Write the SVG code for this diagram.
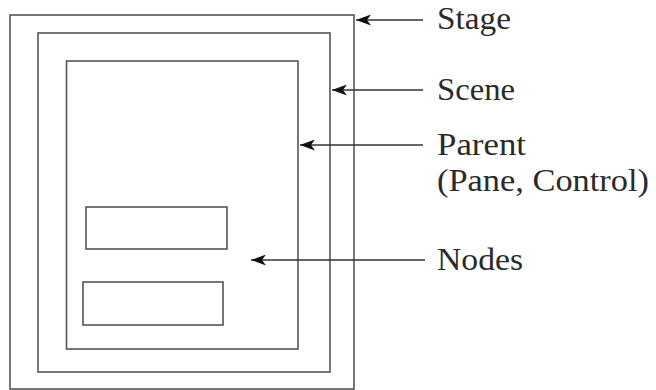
<svg xmlns="http://www.w3.org/2000/svg" width="656" height="390" viewBox="0 0 656 390">
<style>
.box{fill:none;stroke:#555;stroke-width:1.6}
.con{fill:none;stroke:#333;stroke-width:1.3}
.lbl{font-family:"Liberation Serif","Times New Roman",serif;font-size:32px;fill:#2a2a2a}
</style>
<defs>
<marker id="ah" viewBox="0 0 15 11" refX="15" refY="5.5" markerWidth="15" markerHeight="11" markerUnits="userSpaceOnUse" orient="auto-start-reverse">
<path d="M15,5.5 L0,0 L4,5.5 L0,11 Z" fill="#111"/>
</marker>
</defs>
<rect width="656" height="390" fill="#fff"/>
<g id="stage"><rect class="box" x="10" y="15" width="344" height="374"/></g>
<g id="scene"><rect class="box" x="38" y="33" width="292" height="339"/></g>
<g id="parent"><rect class="box" x="66.5" y="61" width="231.5" height="288"/></g>
<g id="node1"><rect class="box" x="86" y="207" width="141" height="42"/></g>
<g id="node2"><rect class="box" x="83" y="282" width="140" height="43"/></g>
<g id="connectors">
<line class="con" x1="356" y1="20" x2="423" y2="20" marker-start="url(#ah)"/>
<line class="con" x1="332" y1="90" x2="423" y2="90" marker-start="url(#ah)"/>
<line class="con" x1="300" y1="145" x2="423" y2="145" marker-start="url(#ah)"/>
<line class="con" x1="251" y1="260" x2="425" y2="260" marker-start="url(#ah)"/>
</g>
<g id="labels">
<text class="lbl" x="437" y="29" textLength="74" lengthAdjust="spacingAndGlyphs">Stage</text>
<text class="lbl" x="437" y="100" textLength="78" lengthAdjust="spacingAndGlyphs">Scene</text>
<text class="lbl" x="437" y="155" textLength="89" lengthAdjust="spacingAndGlyphs">Parent</text>
<text class="lbl" x="437" y="191" textLength="212" lengthAdjust="spacingAndGlyphs">(Pane, Control)</text>
<text class="lbl" x="437" y="270" textLength="86" lengthAdjust="spacingAndGlyphs">Nodes</text>
</g>
</svg>
